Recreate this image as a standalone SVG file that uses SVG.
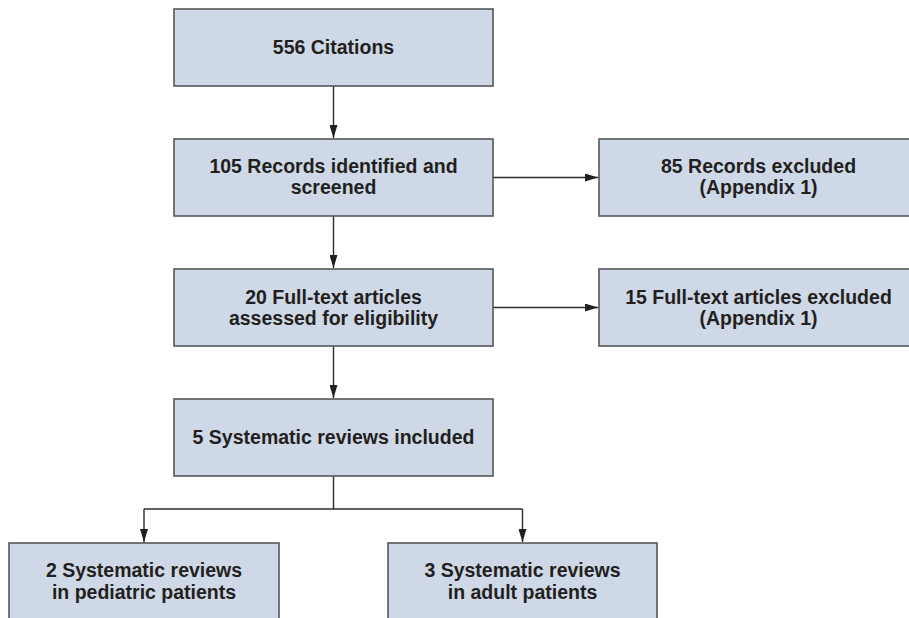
<svg xmlns="http://www.w3.org/2000/svg" width="909" height="618" viewBox="0 0 909 618">
<defs>
<style>
.box{fill:#ced8e6;stroke:#555759;stroke-width:1.6}
.t{font-family:"Liberation Sans",Arial,sans-serif;font-weight:bold;font-size:19.5px;fill:#231f20;text-anchor:middle}
.c{fill:none;stroke:#2b2b2b;stroke-width:1.4}
</style>
<marker id="ah" markerUnits="userSpaceOnUse" markerWidth="14" markerHeight="8" refX="13" refY="4" orient="auto">
<path d="M0,0 L13,4 L0,8 Z" fill="#231f20"/>
</marker>
</defs>
<rect width="909" height="618" fill="#ffffff"/>
<g id="connectors">
<line class="c" x1="333.5" y1="86" x2="333.5" y2="138" marker-end="url(#ah)"/>
<line class="c" x1="333.5" y1="216" x2="333.5" y2="268" marker-end="url(#ah)"/>
<line class="c" x1="333.5" y1="346" x2="333.5" y2="398" marker-end="url(#ah)"/>
<line class="c" x1="493" y1="177.5" x2="598" y2="177.5" marker-end="url(#ah)"/>
<line class="c" x1="493" y1="307.5" x2="598" y2="307.5" marker-end="url(#ah)"/>
<line class="c" x1="333.5" y1="476" x2="333.5" y2="509"/>
<line class="c" x1="144" y1="509" x2="522.5" y2="509"/>
<line class="c" x1="144" y1="509" x2="144" y2="542" marker-end="url(#ah)"/>
<line class="c" x1="522.5" y1="509" x2="522.5" y2="542" marker-end="url(#ah)"/>
</g>
<g id="n1"><rect class="box" x="174" y="9" width="319" height="77"/><text class="t" x="333.5" y="54">556 Citations</text></g>
<g id="n2"><rect class="box" x="174" y="139" width="319" height="77"/><text class="t" x="333.5" y="173">105 Records identified and</text><text class="t" x="333.5" y="194">screened</text></g>
<g id="n3"><rect class="box" x="599" y="139" width="320" height="77"/><text class="t" x="758.5" y="173">85 Records excluded</text><text class="t" x="758.5" y="194">(Appendix 1)</text></g>
<g id="n4"><rect class="box" x="174" y="269" width="319" height="77"/><text class="t" x="333.5" y="304">20 Full-text articles</text><text class="t" x="333.5" y="325">assessed for eligibility</text></g>
<g id="n5"><rect class="box" x="599" y="269" width="320" height="77"/><text class="t" x="758.5" y="304">15 Full-text articles excluded</text><text class="t" x="758.5" y="325">(Appendix 1)</text></g>
<g id="n6"><rect class="box" x="174" y="399" width="319" height="77"/><text class="t" x="333.5" y="444">5 Systematic reviews included</text></g>
<g id="n7"><rect class="box" x="9" y="543" width="270" height="80"/><text class="t" x="144" y="577">2 Systematic reviews</text><text class="t" x="144" y="599">in pediatric patients</text></g>
<g id="n8"><rect class="box" x="388" y="543" width="269" height="80"/><text class="t" x="522.5" y="577">3 Systematic reviews</text><text class="t" x="522.5" y="599">in adult patients</text></g>
</svg>
